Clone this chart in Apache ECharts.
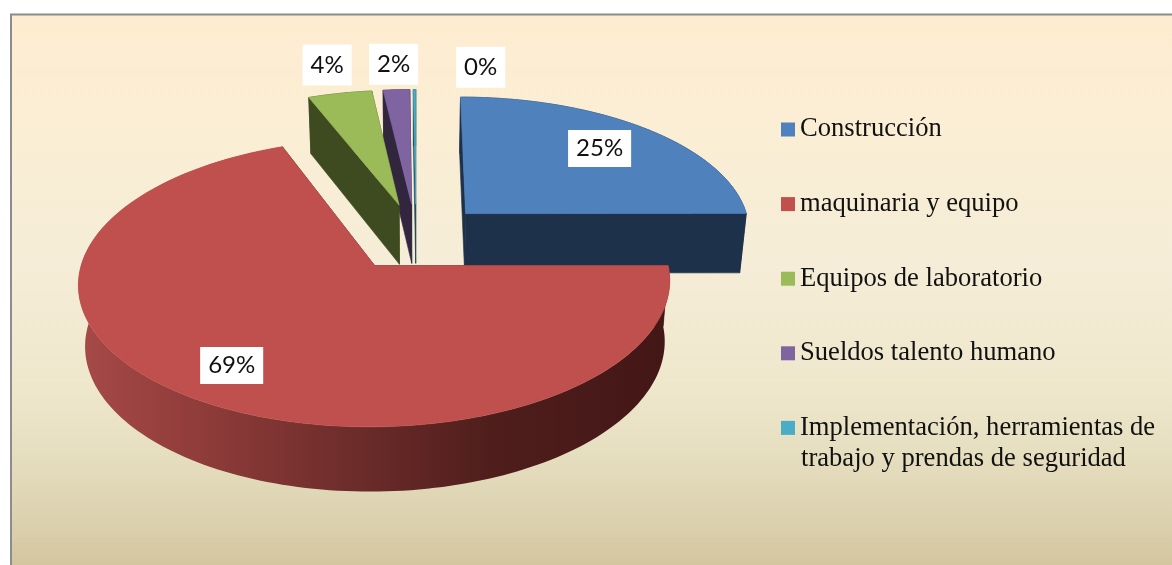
<!DOCTYPE html>
<html>
<head>
<meta charset="utf-8">
<style>html,body{margin:0;padding:0;background:#fff}#c{width:1172px;height:565px}</style>
<script src="https://cdn.jsdelivr.net/npm/echarts@6/dist/echarts.min.js"></script>
</head>
<body>
<div id="c"></div>
<script>
var categories = ["Construcción", "maquinaria y equipo", "Equipos de laboratorio", "Sueldos talento humano", "Implementación, herramientas de trabajo y prendas de seguridad"];
var values = [25, 69.1, 4.1, 1.7, 0.15];
var topColors = ["#4f81bd", "#c0504d", "#9bbb59", "#8064a2", "#4bacc6"];
var wallColors = ["#1d314a", "#4a1a19", "#3e4b20", "#32263f", "#1c4a58"];
var drawOrder = [2, 6, 5, 4, 3];
var labelShift = [[134, -65], [-143, 100], [-72, -140], [-18, -140], [65, -137]];
var labelPadding = [[7, 8, 6, 8], [7, 8, 6, 8], [10, 8, 7, 8], [10, 8, 7, 8], [10, 8, 7, 8]];

var CX = 416, CY = 237, R = 286.5, RY = 135.2, P = 0.1167, EXPLODE = 0.25, DEPTH = 60, CONVERGE = 0.98;
var total = values.reduce(function (a, b) { return a + b; }, 0);

function project(u, v, down) {
  var w = 1 + P * v;
  var x = CX + R * u / w, y = CY - RY * v / w;
  if (down) { x = CX + (x - CX) * CONVERGE; y += DEPTH / Math.sqrt(w); }
  return [x, y];
}
function renderSlice(i) {
  return function (params, api) {
    var before = 0;
    for (var k = 0; k < i; k++) before += values[k];
    var a0 = before / total * Math.PI * 2;
    var a1 = (before + api.value(0)) / total * Math.PI * 2;
    var mid = (a0 + a1) / 2;
    var ou = EXPLODE * Math.sin(mid), ov = EXPLODE * Math.cos(mid);
    var steps = Math.max(4, Math.ceil((a1 - a0) * 40));
    var arc = [];
    for (var s = 0; s <= steps; s++) {
      var a = a0 + (a1 - a0) * s / steps;
      arc.push([ou + Math.sin(a), ov + Math.cos(a)]);
    }
    function P2(pt, d) { return project(pt[0], pt[1], d); }
    var apex = [ou, ov];
    var first = arc[0], last = arc[arc.length - 1];
    var wall = wallColors[i];
    function poly(pts, fill) {
      return { type: 'polygon', shape: { points: pts }, style: { fill: fill, stroke: typeof fill === 'string' ? fill : null, lineWidth: 0.6 } };
    }
    var children = [];
    children.push(poly([P2(apex), P2(first), P2(first, 1), P2(apex, 1)], wall));
    children.push(poly([P2(apex), P2(last), P2(last, 1), P2(apex, 1)], wall));
    var strip = arc.map(function (p) { return P2(p); }).concat(arc.slice().reverse().map(function (p) { return P2(p, 1); }));
    var wallFill = i === 1 ? {
      type: 'linear', x: 85, y: 0, x2: 665, y2: 0, global: true,
      colorStops: [
        { offset: 0, color: '#a54947' }, { offset: 0.2, color: '#8f3c3a' },
        { offset: 0.45, color: '#6e2d2b' }, { offset: 0.7, color: '#4f1e1c' }, { offset: 1, color: '#431716' }
      ]
    } : wall;
    children.push(poly(strip, wallFill));
    children.push(poly([P2(apex)].concat(arc.map(function (p) { return P2(p); })), api.style().fill));
    var ap = P2(apex);
    children.push({
      type: 'text', z2: 50,
      style: {
        text: Math.round(api.value(0) / total * 100) + '%',
        x: ap[0] + labelShift[i][0], y: ap[1] + labelShift[i][1],
        align: 'center', verticalAlign: 'middle',
        fontFamily: 'Lato', fontSize: 24, fill: '#111',
        backgroundColor: '#fff', padding: labelPadding[i]
      }
    });
    return { type: 'group', children: children };
  };
}

var series = categories.map(function (name, i) {
  return {
    type: 'custom', name: name, coordinateSystem: 'none',
    z: drawOrder[i],
    itemStyle: { color: topColors[i] },
    data: [[values[i]]],
    renderItem: renderSlice(i),
    silent: true
  };
});

var chart = echarts.init(document.getElementById('c'), null, { renderer: 'canvas' });
chart.setOption({
  animation: false,
  backgroundColor: '#ffffff',
  graphic: [
    {
      type: 'rect', z: -10, silent: true,
      shape: { x: 11, y: 14.5, width: 1170, height: 560 },
      style: {
        stroke: '#8c8c8c', lineWidth: 2,
        fill: {
          type: 'linear', x: 0, y: 14, x2: 0, y2: 565, global: true,
          colorStops: [
            { offset: 0, color: '#feecd0' }, { offset: 0.18, color: '#fbeed4' },
            { offset: 0.45, color: '#f5edd7' }, { offset: 0.68, color: '#eee7cc' },
            { offset: 0.8, color: '#e5debf' }, { offset: 0.92, color: '#dcd1af' },
            { offset: 1, color: '#d3c69f' }
          ]
        }
      }
    },
    {
      type: 'text', z: 10, silent: true, left: 801, top: 446,
      style: { text: 'trabajo y prendas de seguridad', fontFamily: 'Liberation Serif', fontSize: 26.6, fill: '#111' }
    }
  ],
  legend: {
    show: true, orient: 'vertical', left: 781, top: 111.5,
    itemWidth: 14, itemHeight: 14, itemGap: 38.6, icon: 'rect',
    selectedMode: false, padding: 0,
    data: categories,
    formatter: function (n) { return n.split(' trabajo')[0]; },
    textStyle: { fontFamily: 'Liberation Serif', fontSize: 26.6, color: '#111', lineHeight: 30, padding: [6, 0, 0, 0] }
  },
  series: series
});
</script>
</body>
</html>
